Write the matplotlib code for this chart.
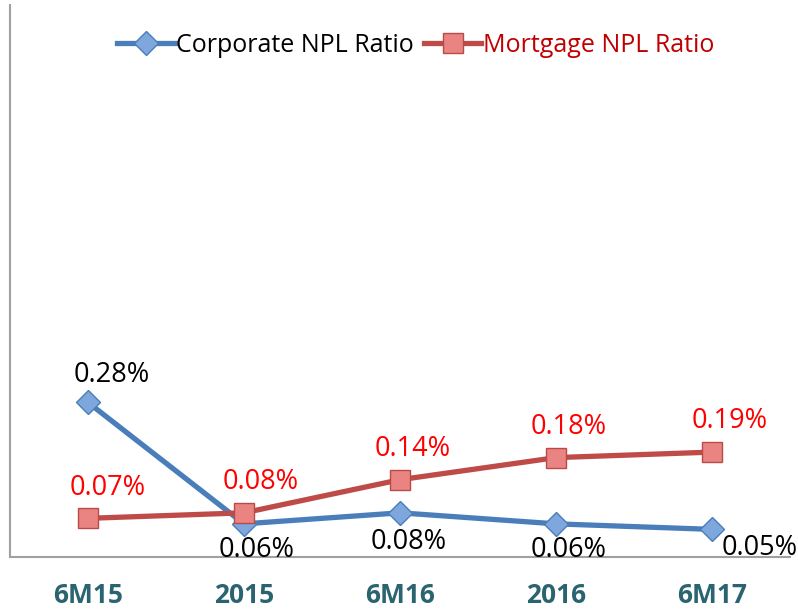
import matplotlib
matplotlib.use("Agg")
import matplotlib.pyplot as plt
import numpy as np

plt.rcParams['font.family'] = ['Open Sans', 'DejaVu Sans']

periods = ['6M15', '2015', '6M16', '2016', '6M17']
corporate_npl = [0.28, 0.06, 0.08, 0.06, 0.05]
mortgage_npl = [0.07, 0.08, 0.14, 0.18, 0.19]

# label offsets in points (dx, dy) for each data label
corp_offsets = [(17, 10), (9, -9), (6, -11), (9, -9), (7, -3)]
mort_offsets = [(14, 12), (12, 12), (9, 12), (9, 12), (13, 12)]

x = np.arange(len(periods))

fig = plt.figure(figsize=(7.98, 6.12), dpi=100)
ax = fig.add_axes([0.0125, 0.0899, 0.9775, 0.902])

ax.plot(x, corporate_npl, color='#4A7EBB', lw=3.8, marker='D', markersize=12,
        markerfacecolor='#7DA7DD', markeredgecolor='#4A7EBB', markeredgewidth=1,
        label='Corporate NPL Ratio', zorder=3)
ax.plot(x, mortgage_npl, color='#BE4B48', lw=3.8, marker='s', markersize=14,
        markerfacecolor='#EA8482', markeredgecolor='#B84A48', markeredgewidth=1,
        label='Mortgage NPL Ratio', zorder=4)

for xi, v, (dx, dy) in zip(x, corporate_npl, corp_offsets):
    ax.annotate('{:.2f}%'.format(v), xy=(xi, v), xytext=(dx, dy),
                textcoords='offset points', ha='left' if xi == 4 else 'center',
                va='bottom' if dy > 0 else 'top', fontsize=19.5, color='black')
for xi, v, (dx, dy) in zip(x, mortgage_npl, mort_offsets):
    ax.annotate('{:.2f}%'.format(v), xy=(xi, v), xytext=(dx, dy),
                textcoords='offset points', ha='center', va='bottom',
                fontsize=19.5, color='#FF0000')

ax.set_xlim(-0.5, 4.5)
ax.set_ylim(0, 1.0)
ax.set_xticks(x)
ax.set_xticklabels(periods, fontsize=19, fontweight='bold', color='#2A6470')
ax.tick_params(axis='x', length=0, pad=18)
ax.set_yticks([])

for side in ['top', 'right']:
    ax.spines[side].set_visible(False)
for side in ['left', 'bottom']:
    ax.spines[side].set_color('#A0A0A0')
    ax.spines[side].set_linewidth(1.5)

leg = ax.legend(loc='upper center', bbox_to_anchor=(0.52, 0.99), ncol=2,
                frameon=False, fontsize=18, handlelength=2.3,
                handletextpad=0.05, columnspacing=0.4)
leg.get_texts()[1].set_color('#C00000')

fig.savefig('out.png', dpi=100)
